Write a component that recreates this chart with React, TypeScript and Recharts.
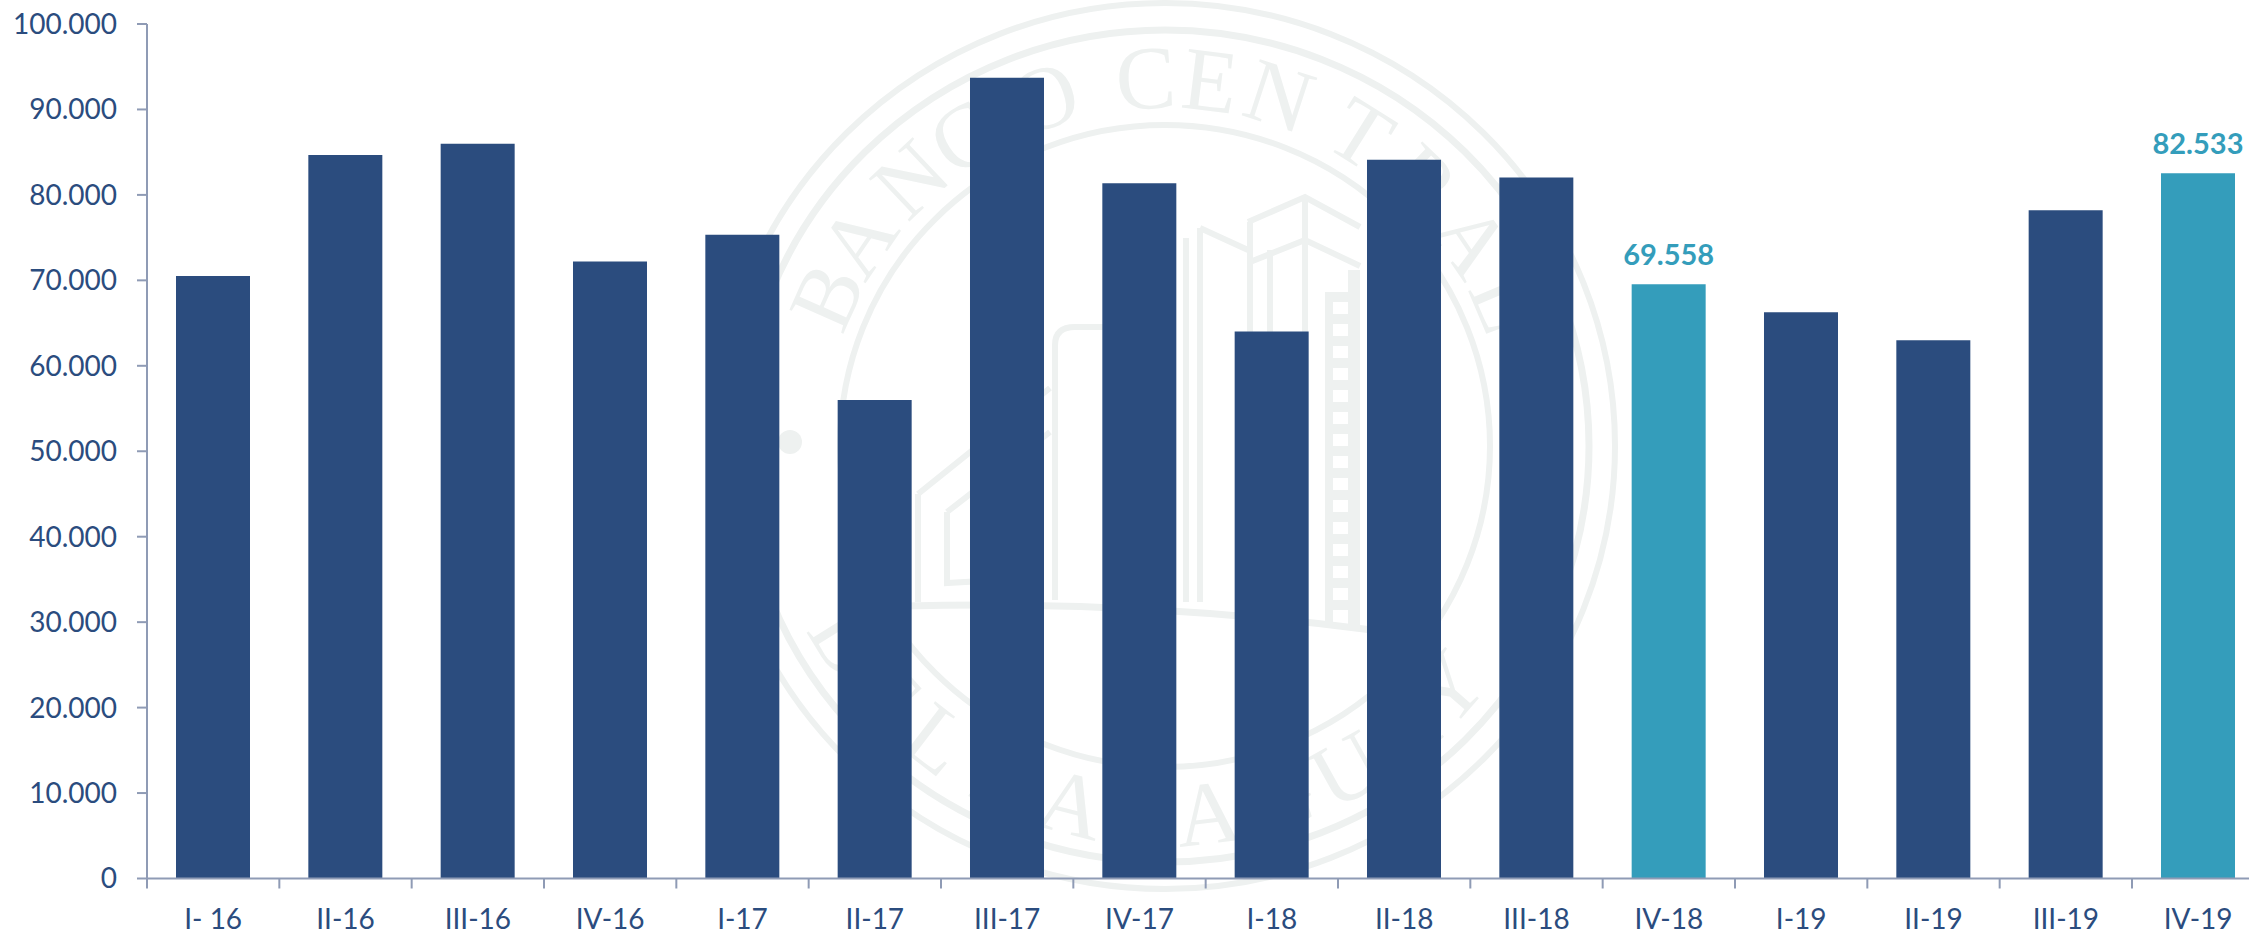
import { BarChart, Bar, XAxis, YAxis, Cell, LabelList } from 'recharts';

const categories = [
  'I- 16', 'II-16', 'III-16', 'IV-16',
  'I-17', 'II-17', 'III-17', 'IV-17',
  'I-18', 'II-18', 'III-18', 'IV-18',
  'I-19', 'II-19', 'III-19', 'IV-19',
];
const values = [
  70500, 84670, 86000, 72200,
  75350, 56000, 93700, 81350,
  64000, 84100, 82050, 69558,
  66260, 63000, 78200, 82533,
];
const highlighted = ['IV-18', 'IV-19'];
const yTicks = [0, 10000, 20000, 30000, 40000, 50000, 60000, 70000, 80000, 90000, 100000];

const data = categories.map((name, i) => ({
  name,
  value: values[i],
  label: highlighted.includes(name) ? values[i] : null,
}));

const NAVY = '#2b4c7e';
const TEAL = '#349dbb';
const AXIS = '#8f9bb5';
const SEAL = '#eef1f0';
const FONT = 'Lato, sans-serif';

// the plot runs past the right edge of the picture, the last band is cut off
const CHART_WIDTH = 2300;
const PLOT_LEFT = 147;
const PLOT_WIDTH = 1985 + 132.33;
const BAND = PLOT_WIDTH / categories.length;

const formatThousands = (v: number) => String(v).replace(/\B(?=(\d{3})+$)/g, '.');

// Axis tick marks sit between the bars, labels under them
function CategoryTick({ x, y, payload }: any) {
  const left = x - BAND / 2;
  return (
    <g>
      <line x1={left} x2={left} y1={y} y2={y + 10} stroke={AXIS} strokeWidth={2} />
      <text x={x} y={y + 50} textAnchor="middle" fontFamily={FONT} fontSize={28} fill={NAVY}>
        {payload.value}
      </text>
    </g>
  );
}

// Seal in the background
const CX = 1165;
const CY = 446;
const TOP_LETTERS = 'BANCOCENTRAL'.split('');
const TOP_ANGLES = [-66, -56, -43.5, -33, -19, -3, 7, 18, 32, 44, 56, 67];
const BOTTOM_LETTERS = 'DELPARAGUAY'.split('');
const BOTTOM_ANGLES = [-58, -48, -37.5, -26, -14.5, -4, 6.6, 18, 29, 39, 49];
const rad = (a: number) => (a * Math.PI) / 180;

function Seal() {
  return (
    <svg width={2249} height={933} style={{ position: 'absolute', left: 0, top: 0 }}>
      <g fill="none" stroke={SEAL} strokeWidth={6}>
        <ellipse cx={CX} cy={CY} rx={450} ry={443} />
        <ellipse cx={CX} cy={CY} rx={424} ry={416} strokeWidth={7} />
        <ellipse cx={CX} cy={CY} rx={325} ry={321} />
        {/* tower */}
        <path d="M1248 222 L1305 197 L1360 227 M1250 262 L1305 240 L1360 266 M1305 197 V240" />
        <path d="M1250 222 V600 M1270 250 V600 M1305 240 V600" />
        <path d="M1200 228 L1248 250 M1200 228 V602 M1186 238 V602" />
        {/* ladder strip beside the tower */}
        <path d="M1329 292 V622" strokeWidth={8} />
        <path d="M1354 270 V628" strokeWidth={12} />
        <path d="M1341 292 V622" strokeWidth={16} strokeDasharray="10 12" />
        {/* low building */}
        <path d="M918 494 L1050 388 M947 512 L1050 432 M918 494 V602 M947 512 V583 L1000 580" />
        <path d="M1055 600 V345 Q1055 327 1075 327 H1110" />
        {/* base */}
        <path d="M905 606 Q1140 600 1372 630" strokeWidth={7} />
      </g>
      <circle cx={790} cy={442} r={12} fill={SEAL} />
      <g fontFamily="Liberation Serif" fontSize={90} fill={SEAL} textAnchor="middle">
        {TOP_LETTERS.map((c, i) => {
          const a = TOP_ANGLES[i];
          const px = CX + 340 * Math.sin(rad(a));
          const py = CY - 338 * Math.cos(rad(a));
          return <text key={i} transform={`translate(${px} ${py}) rotate(${a})`}>{c}</text>;
        })}
        {BOTTOM_LETTERS.map((c, i) => {
          const a = BOTTOM_ANGLES[i];
          const px = CX + 404 * Math.sin(rad(a));
          const py = CY + 400 * Math.cos(rad(a));
          return <text key={i} transform={`translate(${px} ${py}) rotate(${-a})`}>{c}</text>;
        })}
      </g>
    </svg>
  );
}

export default function App() {
  return (
    <div
      style={{
        position: 'absolute',
        left: 0,
        top: 0,
        width: 2249,
        height: 933,
        overflow: 'hidden',
        background: '#fff',
      }}
    >
      <Seal />
      <div style={{ position: 'absolute', left: 0, top: 0 }}>
        <BarChart
          width={CHART_WIDTH}
          height={933}
          data={data}
          barSize={74}
          margin={{ top: 24, right: CHART_WIDTH - PLOT_LEFT - PLOT_WIDTH, bottom: 0, left: 0 }}
        >
          <XAxis
            dataKey="name"
            height={54.5}
            interval={0}
            tickSize={0}
            tickMargin={0}
            tickLine={false}
            axisLine={{ stroke: AXIS, strokeWidth: 2 }}
            tick={CategoryTick}
          />
          <YAxis
            width={PLOT_LEFT}
            domain={[0, 100000]}
            ticks={yTicks}
            interval={0}
            tickFormatter={formatThousands}
            tickSize={10}
            tickMargin={20}
            tickLine={{ stroke: AXIS, strokeWidth: 2 }}
            axisLine={{ stroke: AXIS, strokeWidth: 2 }}
            tick={{ fill: NAVY, fontFamily: FONT, fontSize: 28 }}
          />
          <Bar dataKey="value" isAnimationActive={false}>
            {data.map((d, i) => (
              <Cell key={`cell-${i}`} fill={highlighted.includes(d.name) ? TEAL : NAVY} />
            ))}
            <LabelList
              dataKey="label"
              position="top"
              offset={19}
              formatter={(v: any) => (v == null ? '' : formatThousands(v))}
              fill={TEAL}
              fontFamily={FONT}
              fontWeight={700}
              fontSize={29}
            />
          </Bar>
        </BarChart>
      </div>
    </div>
  );
}
